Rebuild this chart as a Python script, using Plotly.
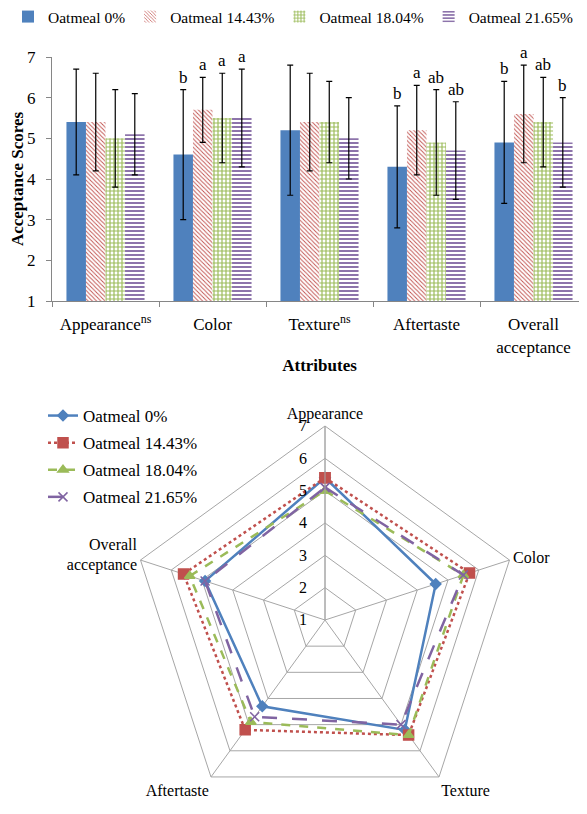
import plotly.graph_objects as go

categories = ["Appearance", "Color", "Texture", "Aftertaste", "Overall acceptance"]
bar_tick_labels = ["Appearance<sup>ns</sup>", "Color", "Texture<sup>ns</sup>", "Aftertaste", "Overall<br>acceptance"]
radar_labels = ["Appearance", "Color", "Texture", "Aftertaste", "Overall<br>acceptance"]
series_names = ["Oatmeal 0%", "Oatmeal 14.43%", "Oatmeal 18.04%", "Oatmeal 21.65%"]

means_0 = [5.4, 4.6, 5.2, 4.3, 4.9]
means_1443 = [5.4, 5.7, 5.4, 5.2, 5.6]
means_1804 = [5.0, 5.5, 5.4, 4.9, 5.4]
means_2165 = [5.1, 5.5, 5.0, 4.7, 4.9]

sd_0 = [1.3, 1.6, 1.6, 1.5, 1.5]
sd_1443 = [1.2, 0.8, 1.2, 1.1, 1.2]
sd_1804 = [1.2, 1.1, 1.0, 1.3, 1.1]
sd_2165 = [1.0, 1.2, 1.0, 1.2, 1.1]

letters_0 = ["", "b", "", "b", "b"]
letters_1443 = ["", "a", "", "a", "a"]
letters_1804 = ["", "a", "", "ab", "ab"]
letters_2165 = ["", "a", "", "ab", "b"]

radial_ticks = [1, 2, 3, 4, 5, 6, 7]

FONT = "Liberation Serif"
BLUE, RED, GREEN, PURPLE = "#4f81bd", "#c0504d", "#9bbb59", "#8064a2"
# page body has an 8px margin: lay out in page coordinates, shifted by OFF
OFF = 8
W, H = 587 - OFF, 814 - OFF


def fx(px):
    return (px - OFF) / W


def fy(py):
    return 1 - (py - OFF) / H


means = [means_0, means_1443, means_1804, means_2165]
sds = [sd_0, sd_1443, sd_1804, sd_2165]
letters = [letters_0, letters_1443, letters_1804, letters_2165]
colors = [BLUE, RED, GREEN, PURPLE]
patterns = [
    dict(shape=""),
    dict(shape="\\", fgcolor=RED, bgcolor="white", size=3, solidity=0.3, fillmode="replace"),
    dict(shape="+", fgcolor=GREEN, bgcolor="white", size=4, solidity=0.5, fillmode="replace"),
    dict(shape="-", fgcolor=PURPLE, bgcolor="white", size=4, solidity=0.45, fillmode="replace"),
]

fig = go.Figure()
for i in range(4):
    fig.add_trace(go.Bar(
        x=bar_tick_labels, y=means[i], name=series_names[i],
        marker=dict(color=colors[i] if i == 0 else "white", line=dict(width=0), pattern=patterns[i]),
        error_y=dict(type="data", array=sds[i], color="black", thickness=1.2, width=3),
        legend="legend", base=0,
    ))

bargap = 0.27
bw = (1 - bargap) / 4
annotations = []
for i in range(4):
    for j, lab in enumerate(letters[i]):
        if lab:
            annotations.append(dict(
                x=j + (i - 1.5) * bw, y=means[i][j] + sds[i][j], xref="x", yref="y",
                text=lab, showarrow=False, yanchor="bottom", yshift=1,
                font=dict(family=FONT, size=17, color="black")))

marker_syms = ["diamond", "square", "triangle-up", "x-thin-open"]
dashes = ["solid", "dot", "dash", "longdash"]
msizes = [8, 10, 9, 9]
for i in range(4):
    r = means[i] + [means[i][0]]
    th = radar_labels + [radar_labels[0]]
    fig.add_trace(go.Scatterpolar(
        r=r, theta=th, name=series_names[i], mode="lines+markers",
        line=dict(color=colors[i], width=2.5, dash=dashes[i]),
        marker=dict(symbol=marker_syms[i], size=msizes[i], color=colors[i],
                    line=dict(color=colors[i], width=1.5)),
        legend="legend2", legendgroup="g%d" % i, subplot="polar",
    ))

pcx, pcy, rad = 325, 620, 194
fig.update_layout(
    width=W, height=H, autosize=False,
    margin=dict(l=0, r=0, t=0, b=0, autoexpand=False),
    paper_bgcolor="white", plot_bgcolor="white",
    font=dict(family=FONT, size=16, color="black"),
    barmode="group", bargap=bargap, bargroupgap=0,
    xaxis=dict(domain=[fx(52), 1.0], showline=True, linecolor="#868686", linewidth=1,
               ticks="outside", tickson="boundaries", ticklen=5, tickcolor="#868686",
               tickfont=dict(family=FONT, size=17), automargin=False, ticklabelstandoff=8,
               title=dict(text="<b>Attributes</b>", font=dict(family=FONT, size=17), standoff=3),
               anchor="y"),
    yaxis=dict(domain=[fy(301), fy(57)], range=[1, 7], dtick=1, showgrid=False,
               showline=True, linecolor="#868686", linewidth=1, ticks="outside", ticklen=5,
               tickcolor="#868686", tickfont=dict(family=FONT, size=17), zeroline=False,
               automargin=False, ticklabelstandoff=7,
               title=dict(text="<b>Acceptance Scores</b>", font=dict(family=FONT, size=17), standoff=0),
               anchor="x"),
    legend=dict(orientation="h", x=0, y=fy(17), xanchor="left", yanchor="middle",
                font=dict(family=FONT, size=15.5), itemwidth=30, bgcolor="rgba(0,0,0,0)"),
    legend2=dict(orientation="v", x=fx(43), y=fy(398), xanchor="left", yanchor="top",
                 font=dict(family=FONT, size=17), itemwidth=30, tracegroupgap=2,
                 bgcolor="rgba(0,0,0,0)"),
    polar=dict(
        domain=dict(x=[fx(pcx - rad), fx(pcx + rad)], y=[max(0.0, fy(pcy + rad)), fy(pcy - rad)]),
        gridshape="linear", bgcolor="white",
        radialaxis=dict(range=[1, 7], tickvals=radial_ticks, angle=90, side="counterclockwise",
                        showline=True, linecolor="#a6a6a6", gridcolor="#a6a6a6",
                        ticks="outside", ticklen=12, tickcolor="rgba(0,0,0,0)",
                        tickfont=dict(family=FONT, size=16), tickangle=90),
        angularaxis=dict(rotation=90, direction="clockwise", showline=True, linecolor="#a6a6a6",
                         gridcolor="#a6a6a6", ticks="", tickfont=dict(family=FONT, size=16)),
    ),
    annotations=annotations,
)

fig.write_html("out.html")
